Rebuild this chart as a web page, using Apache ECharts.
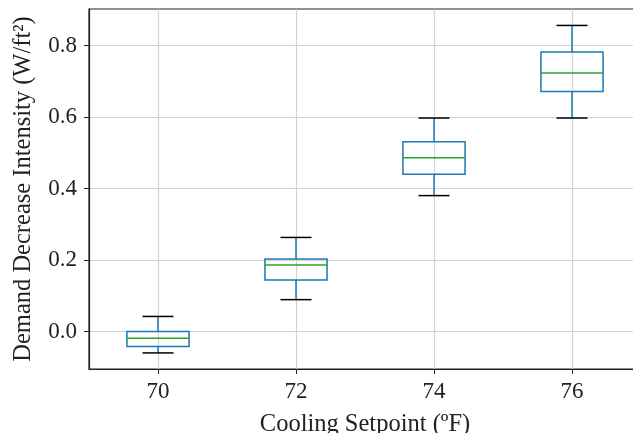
<!DOCTYPE html>
<html>
<head>
<meta charset="utf-8">
<script src="https://cdn.jsdelivr.net/npm/echarts@6/dist/echarts.min.js"></script>
<style>
  html, body { margin: 0; padding: 0; background: #fff; }
  #main { width: 633px; height: 433px; }
</style>
</head>
<body>
<div id="main"></div>
<script>
// setpoints (deg F)
const categories = ["70", "72", "74", "76"];
// box stats
const lowWhisker = [-0.060, 0.089, 0.380, 0.597];
const q1 = [-0.042, 0.144, 0.440, 0.671];
const median = [-0.019, 0.186, 0.486, 0.723];
const q3 = [0.000, 0.203, 0.531, 0.782];
const highWhisker = [0.042, 0.263, 0.597, 0.856];
const yTicks = [0.0, 0.2, 0.4, 0.6, 0.8];
const xTicks = categories.map((c, i) => i);

const serif = "'Liberation Serif', 'Times New Roman', serif";
const boxData = categories.map((c, i) => [i, lowWhisker[i], q1[i], median[i], q3[i], highWhisker[i]]);

function renderBox(params, api) {
  const i = api.value(0);
  const band = api.size([1, 0])[0];
  const half = band * 0.45 / 2;
  const capHalf = half / 2;
  const lo = api.coord([i, api.value(1)]);
  const b1 = api.coord([i, api.value(2)]);
  const md = api.coord([i, api.value(3)]);
  const b3 = api.coord([i, api.value(4)]);
  const hi = api.coord([i, api.value(5)]);
  const x = lo[0];
  const blue = "#1f77b4";
  const lw = 1.5;
  return {
    type: "group",
    children: [
      { type: "line", shape: { x1: x, y1: b1[1], x2: x, y2: lo[1] }, style: { stroke: blue, lineWidth: lw } },
      { type: "line", shape: { x1: x, y1: b3[1], x2: x, y2: hi[1] }, style: { stroke: blue, lineWidth: lw } },
      { type: "line", shape: { x1: x - capHalf, y1: lo[1], x2: x + capHalf, y2: lo[1] }, style: { stroke: "#000", lineWidth: lw } },
      { type: "line", shape: { x1: x - capHalf, y1: hi[1], x2: x + capHalf, y2: hi[1] }, style: { stroke: "#000", lineWidth: lw } },
      { type: "rect", shape: { x: x - half, y: b3[1], width: half * 2, height: b1[1] - b3[1] }, style: { stroke: blue, fill: "none", lineWidth: lw } },
      { type: "line", shape: { x1: x - half, y1: md[1], x2: x + half, y2: md[1] }, style: { stroke: "#2ca02c", lineWidth: lw } }
    ]
  };
}

const chart = echarts.init(document.getElementById("main"));
chart.setOption({
  animation: false,
  grid: {
    left: 89, top: 9, width: 552, height: 360,
    containLabel: false, outerBoundsMode: "none",
    show: true, borderColor: "#222", borderWidth: 1.2, backgroundColor: "transparent"
  },
  xAxis: {
    type: "value",
    min: -0.5,
    max: 3.5,
    name: "Cooling Setpoint (ºF)",
    nameLocation: "middle",
    nameGap: 43,
    nameTextStyle: { fontFamily: serif, fontSize: 24.5, color: "#222" },
    axisLine: { onZero: false, lineStyle: { color: "#222", width: 1.2 } },
    axisTick: { show: true, length: 5, customValues: xTicks, lineStyle: { color: "#222" } },
    axisLabel: { fontFamily: serif, fontSize: 23, color: "#222", margin: 11, customValues: xTicks, formatter: v => categories[v] },
    splitLine: { show: true, lineStyle: { color: "#d3d3d3", width: 1.2 } }
  },
  yAxis: {
    type: "value",
    min: -0.105,
    max: 0.902,
    name: "Demand Decrease Intensity (W/ft²)",
    nameLocation: "middle",
    nameGap: 53,
    nameTextStyle: { fontFamily: serif, fontSize: 24.5, color: "#222" },
    axisLine: { show: true, onZero: false, lineStyle: { color: "#222", width: 1.2 } },
    axisTick: { show: true, length: 5, customValues: yTicks, lineStyle: { color: "#222" } },
    axisLabel: { fontFamily: serif, fontSize: 23, color: "#222", margin: 12, customValues: yTicks, formatter: v => v.toFixed(1) },
    splitLine: { show: true, lineStyle: { color: "#d3d3d3", width: 1.2 } }
  },
  series: [{
    type: "custom",
    renderItem: renderBox,
    encode: { x: 0, y: [1, 2, 3, 4, 5] },
    data: boxData,
    z: 3
  }]
});
</script>
</body>
</html>
